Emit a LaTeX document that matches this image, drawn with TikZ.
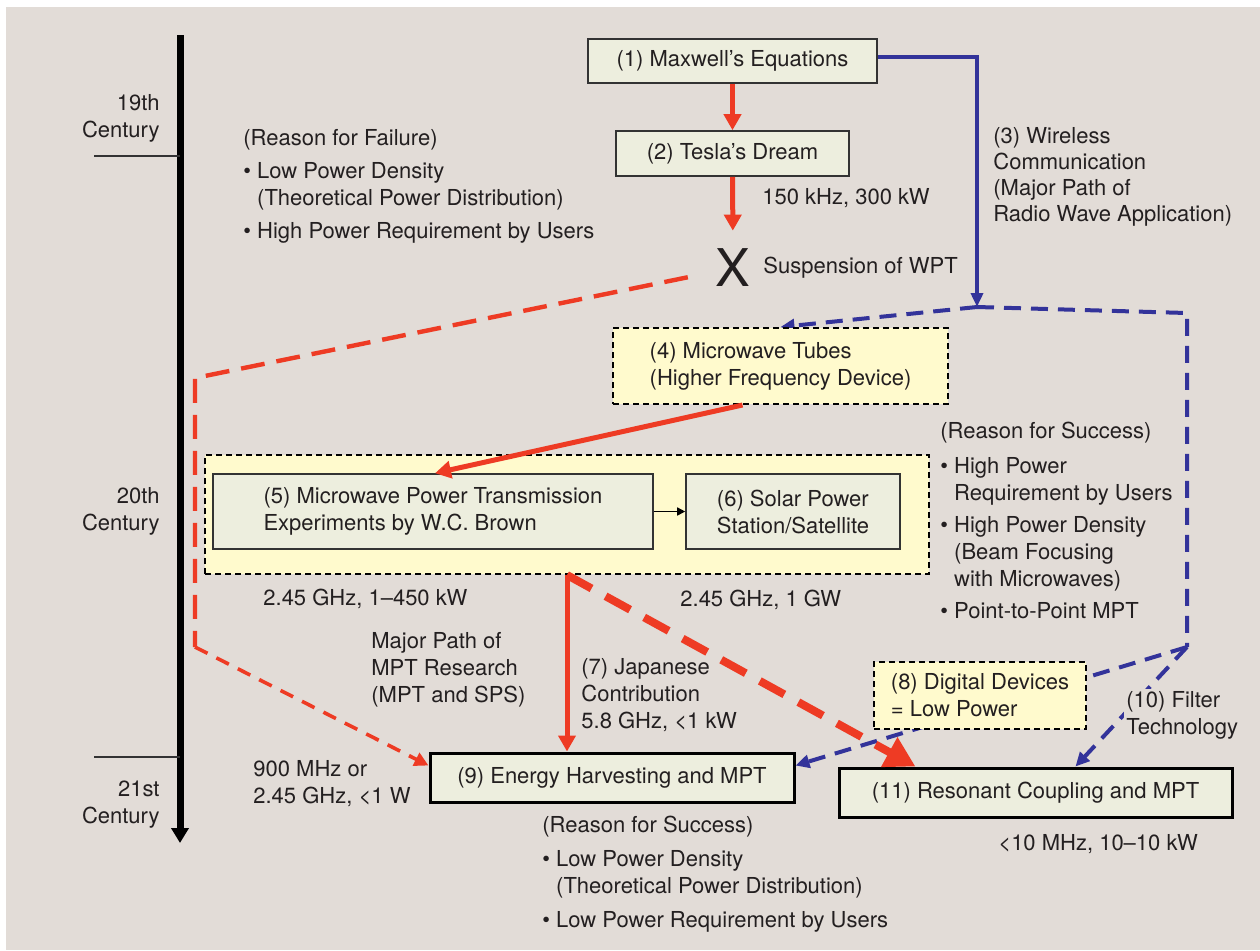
\documentclass[tikz,border=0pt]{standalone}
\usepackage{fontspec}
\setmainfont{TeX Gyre Heros}
\usetikzlibrary{arrows.meta}

\definecolor{bgc}{HTML}{E2DCD7}
\definecolor{boxfill}{HTML}{EDEEDE}
\definecolor{yel}{HTML}{FFFACD}
\definecolor{wptred}{HTML}{EE3B24}
\definecolor{comblue}{HTML}{33339A}
\definecolor{ink}{HTML}{231F20}

\pgfdeclarelayer{back}
\pgfdeclarelayer{behind}
\pgfsetlayers{back,behind,main}

\newcommand\bul{\textbullet\ }
\newcommand\ind{\hphantom{\textbullet\ }}

\begin{document}
\begin{tikzpicture}[x=0.5pt, y=-0.5pt, text=ink,
  font=\fontsize{11}{13.5}\selectfont,
  box/.style={draw=black!80, line width=0.8pt, fill=boxfill, inner sep=0pt, align=left},
  bigbox/.style={box, draw=black, line width=1.5pt},
  dbox/.style={draw=black, line width=1pt, dash pattern=on 3pt off 2pt, fill=yel,
    inner sep=0pt, align=left},
  lbl/.style={align=left, inner sep=0pt},
  redarr/.style={draw=wptred, line width=2.5pt, -{Triangle[length=8pt,width=8.5pt]}},
  reddash/.style={draw=wptred, line width=2.2pt, dash pattern=on 12pt off 6pt},
  redthin/.style={draw=wptred, line width=1.8pt, dash pattern=on 7pt off 5pt,
    -{Triangle[length=7pt,width=7pt]}},
  redthick/.style={draw=wptred, line width=4pt, dash pattern=on 14pt off 8pt,
    -{Triangle[length=15pt,width=16pt]}},
  bluearr/.style={draw=comblue, line width=1.8pt, -{Triangle[length=7pt,width=6pt]}},
  bluedash/.style={draw=comblue, line width=2pt, dash pattern=on 8.5pt off 5pt},
  bluetip/.style={bluedash, -{Triangle[length=7pt,width=6.5pt]}}]

\useasboundingbox (0,0) rectangle (1260,950);
\begin{pgfonlayer}{back}
\fill[white] (0,0) rectangle (1260,950);
\fill[bgc] (6,7) rectangle (1260,950);
\end{pgfonlayer}

\coordinate (t0) at (180,35);
\coordinate (t1) at (180,843);
\coordinate (k1) at (94,156);
\coordinate (k2) at (94,757);
\draw[line width=3.5pt, -{Triangle[length=7.5pt,width=8.5pt]}] (t0) -- (t1);
\draw[line width=0.8pt, black!80] (k1) -- (k1 -| t0);
\draw[line width=0.8pt, black!80] (k2) -- (k2 -| t0);
\node[lbl, align=right, anchor=east] (c19) at (160,118) {19th\\Century};
\node[lbl, align=right, anchor=east] (c20) at (160,511) {20th\\Century};
\node[lbl, align=right, anchor=east] (c21) at (160,805) {21st\\Century};

\node[box, minimum width=144.5pt, minimum height=22pt] (1) at (732.5,61) {(1) Maxwell's Equations};
\node[box, minimum width=116.5pt, minimum height=22.5pt] (2) at (732.5,153.5) {(2) Tesla's Dream};
\node[inner sep=0pt, font=\fontsize{26}{26}\selectfont] (x) at (733,268) {X};
\node[lbl, anchor=west] (susp) at (763,268) {Suspension of WPT};
\node[lbl, anchor=west] (f2) at (762,198) {150 kHz, 300 kW};

\node[lbl, anchor=west] (fail) at (243,186.5) {(Reason for Failure)\\[3pt]
  \bul Low Power Density\\\ind(Theoretical Power Distribution)\\[3pt]
  \bul High Power Requirement by Users};
\node[lbl, anchor=west] (3) at (993,176.5) {(3) Wireless\\[-0.5pt]Communication\\[-0.5pt]
  (Major Path of\\[-0.5pt]Radio Wave Application)};

\node[dbox, minimum width=167.5pt, minimum height=38pt] (4)
  at (780.5,366) {(4) Microwave Tubes\\(Higher Frequency Device)};
\node[dbox, minimum width=362pt, minimum height=59.5pt] (big) at (567,514.5) {};
\node[box, minimum width=220pt, minimum height=37.5pt] (5)
  at (433,511.5) {(5) Microwave Power Transmission\\Experiments by W.C. Brown};
\node[box, minimum width=107pt, minimum height=37.5pt] (6)
  at (793,511.5) {(6) Solar Power\\Station/Satellite};

\node[lbl, anchor=west] (succ) at (940,520) {(Reason for Success)\\[4pt]
  \bul High Power\\\ind Requirement by Users\\[2.5pt]
  \bul High Power Density\\\ind(Beam Focusing\\\ind with Microwaves)\\[2.5pt]
  \bul Point-to-Point MPT};

\node[lbl, anchor=west] (f5) at (263,599) {2.45 GHz, 1--450 kW};
\node[lbl, anchor=west] (f6) at (680,600) {2.45 GHz, 1 GW};
\node[lbl, anchor=west] (major) at (371,669.5) {Major Path of\\MPT Research\\(MPT and SPS)};
\node[lbl, anchor=west] (7) at (581,695) {(7) Japanese\\Contribution\\5.8 GHz, <1 kW};
\node[lbl, anchor=west] (f9) at (253,784) {900 MHz or\\2.45 GHz, <1 W};

\node[dbox, minimum width=106pt, minimum height=33.5pt] (8)
  at (980,695.5) {(8) Digital Devices\\= Low Power};
\node[lbl, anchor=west, fill=bgc, inner sep=1pt] (10) at (1124,715) {(10) Filter\\Technology};

\node[bigbox, minimum width=182pt, minimum height=24.5pt] (9) at (612,777.5) {(9) Energy Harvesting and MPT};
\node[bigbox, minimum width=196.5pt, minimum height=24.5pt] (11) at (1035.5,792.5) {(11) Resonant Coupling and MPT};
\node[lbl, anchor=west] (f11) at (998,844) {<10 MHz, 10--10 kW};
\node[lbl, anchor=west] (succ2) at (542,874.5) {(Reason for Success)\\[3.5pt]
  \bul Low Power Density\\\ind(Theoretical Power Distribution)\\[3.5pt]
  \bul Low Power Requirement by Users};

\coordinate (r1) at (195,378);
\coordinate (r2) at (195,647);
\coordinate (b1) at (977,307);
\coordinate (b2) at (1187,313);
\coordinate (b3) at (1187,647);

\draw[redarr] (1) -- (2);
\draw[redarr, shorten >=9pt] (2) -- (x);
\draw[reddash, shorten <=14pt] (x) -- (r1) -- (r2);
\draw[redthin] (r2) -- ([yshift=-7pt]9.north west);
\draw[redarr] ([xshift=-19pt]4.south) -- ([xshift=1pt]5.north);
\draw[line width=0.8pt, -{Triangle[length=4pt,width=4pt]}] (5) -- (6);
\draw[redarr] (big.south) -- (big.south |- 9.north);
\draw[redthick] (big.south) -- ([xshift=39pt]11.north west);

\begin{pgfonlayer}{behind}
\draw[bluearr] ([yshift=2pt]1.east) -| (b1);
\draw[bluetip] (b1) -- (4.north);
\draw[bluedash] (b1) -- (b2) -- (b3);
\draw[bluetip] (b3) -- ([yshift=6pt]9.east);
\draw[bluetip] (b3) -- ([xshift=20pt]11.north);
\end{pgfonlayer}
\end{tikzpicture}
\end{document}
